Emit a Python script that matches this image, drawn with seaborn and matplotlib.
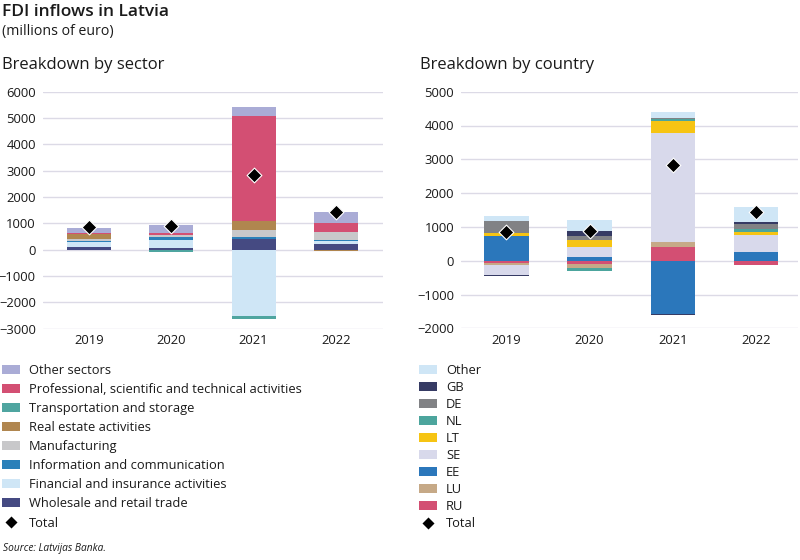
import numpy as np
import pandas as pd
import matplotlib
matplotlib.use("Agg")
import matplotlib.pyplot as plt
import seaborn as sns
from matplotlib.patches import Patch
from matplotlib.lines import Line2D

sns.set_theme(style="white")
plt.rcParams['font.family'] = ['Open Sans', 'DejaVu Sans']

years = ["2019", "2020", "2021", "2022"]
total = [845, 890, 2820, 1450]

# Sector breakdown (stack order bottom -> top)
sector_names = ["Wholesale and retail trade", "Financial and insurance activities",
                "Information and communication", "Manufacturing", "Real estate activities",
                "Transportation and storage",
                "Professional, scientific and technical activities", "Other sectors"]
wholesale = [100, 50, 420, 215]
financial = [190, 315, -2530, 125]
infocomm = [38, 100, 50, 40]
manufacturing = [75, 88, 290, 290]
real_estate = [190, 0, 325, -40]
transport = [0, -75, -90, 0]
professional = [37, 100, 4000, 340]
other_sectors = [213, 303, 320, 440]
sector_colors = ["#454a82", "#cfe6f6", "#2b80b9", "#c8c8ca", "#b0864f",
                 "#4fa5a0", "#d34f73", "#aaacd6"]

# Country breakdown (stack order bottom -> top)
country_names = ["RU", "LU", "EE", "SE", "LT", "NL", "DE", "GB", "Other"]
RU = [-60, -90, 405, -138]
LU = [-60, -125, 150, 0]
EE = [730, 100, -1580, 246]
SE = [-290, 310, 3220, 512]
LT = [90, 205, 370, 79]
NL = [0, -95, 60, 98]
DE = [360, 120, 30, 148]
GB = [-40, 130, -20, 50]
Other = [128, 334, 150, 443]
country_colors = ["#d34f73", "#c6a987", "#2b77bb", "#d8d9eb", "#f6c413",
                  "#4ca59d", "#818285", "#363b64", "#cfe6f6"]

sector_vals = [wholesale, financial, infocomm, manufacturing, real_estate,
               transport, professional, other_sectors]
country_vals = [RU, LU, EE, SE, LT, NL, DE, GB, Other]

fig = plt.figure(figsize=(8, 5.6), dpi=100)
W, H = 800, 560

def px_axes(left, top, right, bottom):
    return fig.add_axes([left / W, 1 - bottom / H, (right - left) / W, (bottom - top) / H])

ax1 = px_axes(42.7, 91.7, 382.7, 328.7)
ax2 = px_axes(461, 91.7, 798, 328.3)

grid_color = "#dcdae6"

def draw(ax, names, vals, colors, ylim, yticks, xlim):
    pos = np.zeros(len(years))
    neg = np.zeros(len(years))
    for name, v, c in zip(names, vals, colors):
        v = np.array(v, dtype=float)
        bottom = np.where(v >= 0, pos, neg)
        df = pd.DataFrame({"year": years, "value": v})
        sns.barplot(data=df, x="year", y="value", order=years, color=c,
                    bottom=bottom, width=0.534, errorbar=None, ax=ax,
                    saturation=1, linewidth=0)
        pos = pos + np.where(v > 0, v, 0)
        neg = neg + np.where(v < 0, v, 0)
    dft = pd.DataFrame({"year": years, "total": total})
    sns.stripplot(data=dft, x="year", y="total", order=years, jitter=False,
                  marker="D", color="black", edgecolor="white", linewidth=0.8,
                  size=7.5, ax=ax, zorder=5)
    ax.set_ylim(*ylim)
    ax.set_xlim(*xlim)
    ax.set_yticks(yticks)
    ax.set_yticklabels([f"{t}".replace("-", "\u2212") for t in yticks])
    ax.yaxis.grid(True, color=grid_color, linewidth=1)
    ax.set_axisbelow(True)
    for s in ax.spines.values():
        s.set_visible(False)
    ax.tick_params(axis="both", length=0, labelsize=9.4, colors="#1a1a1a")
    ax.tick_params(axis="y", pad=5)
    ax.tick_params(axis="x", pad=4)
    ax.set_xlabel("")
    ax.set_ylabel("")

draw(ax1, sector_names, sector_vals, sector_colors, (-3000, 6000),
     list(range(-3000, 6001, 1000)), (-0.558, 3.567))
draw(ax2, country_names, country_vals, country_colors, (-2000, 5000),
     list(range(-2000, 5001, 1000)), (-0.545, 3.506))

# Titles
fig.text(2 / W, 1 - 12 / H, "FDI inflows in Latvia", fontsize=12.5, fontweight="semibold",
         va="center", ha="left", color="#1a1a1a")
fig.text(2 / W, 1 - 31 / H, "(millions of euro)", fontsize=10.2, va="center", ha="left",
         color="#1a1a1a")
fig.text(2 / W, 1 - 65 / H, "Breakdown by sector", fontsize=12, va="center", ha="left",
         color="#1a1a1a")
fig.text(420 / W, 1 - 65 / H, "Breakdown by country", fontsize=12, va="center", ha="left",
         color="#1a1a1a")
fig.text(3 / W, 1 - 548 / H, "Source: Latvijas Banka.", fontsize=7.3, style="italic",
         va="center", ha="left", color="#1a1a1a")

def make_legend(names, colors, x, spacing):
    handles = [Patch(facecolor=c, edgecolor="none") for c in colors][::-1]
    labels = list(names)[::-1]
    handles.append(Line2D([], [], marker="D", color="black", markeredgecolor="white",
                          linestyle="none", markersize=7))
    labels.append("Total")
    fig.legend(handles, labels, loc="upper left", bbox_to_anchor=(x / W, 1 - 364 / H),
               frameon=False, fontsize=9.3, handlelength=1.4, handleheight=0.7,
               handletextpad=0.7, labelspacing=spacing, borderaxespad=0, borderpad=0,
               labelcolor="#1a1a1a")

make_legend(sector_names, sector_colors, 2, 0.47)
make_legend(country_names, country_colors, 419, 0.31)

fig.savefig("out.png", dpi=100)
